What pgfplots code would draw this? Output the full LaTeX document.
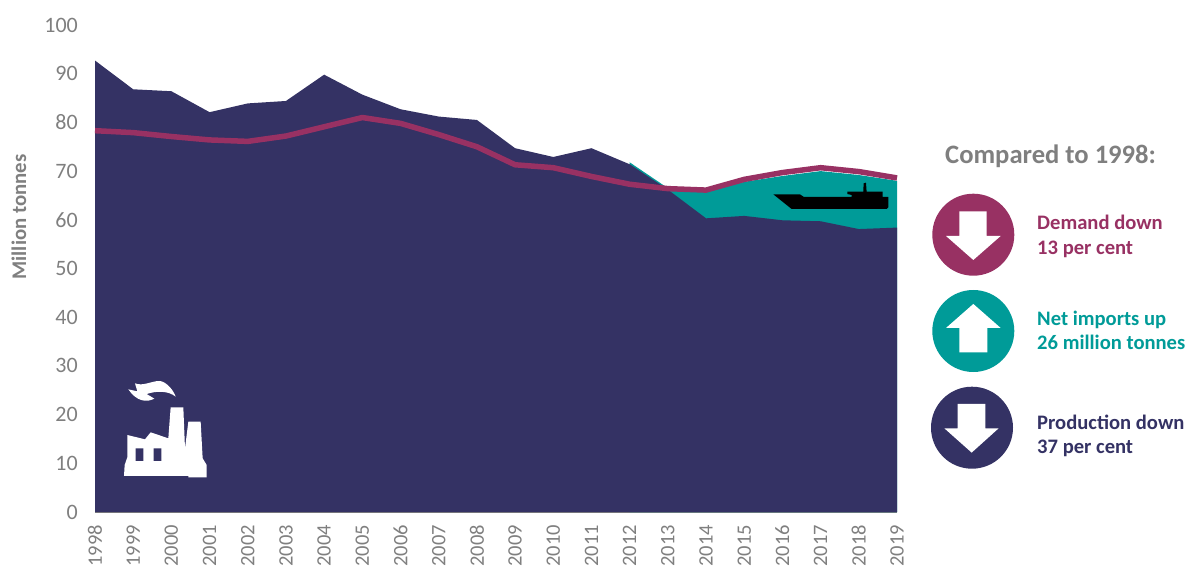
\documentclass[border=0pt]{standalone}
\usepackage{fontspec}
\setmainfont{Carlito}
\usepackage{pgfplots}
\pgfplotsset{compat=1.18}
\definecolor{navy}{HTML}{343264}
\definecolor{plum}{HTML}{983163}
\definecolor{teal2}{HTML}{009B98}
\definecolor{greytxt}{HTML}{7F7F7F}
\newcommand{\px}[1]{\fontsize{#1bp}{#1bp}\selectfont}
\begin{document}
\begin{tikzpicture}[x=1bp,y=1bp]
\path[use as bounding box] (0,0) rectangle (1190,-568);
\begin{axis}[
    at={(95bp,-512bp)}, anchor=south west,
    scale only axis,
    width=802bp, height=487bp,
    xmin=1998, xmax=2019, ymin=0, ymax=100,
    xtick={1998,...,2019},
    ytick={0,10,...,100},
    axis x line*=bottom, axis y line*=left,
    y axis line style={draw=none},
    x axis line style={draw=greytxt, line width=0.8bp, -},
    major tick length=0pt,
    /pgf/number format/assume math mode=true,
    /pgf/number format/1000 sep={},
    x tick label style={rotate=90, anchor=east, font=\px{20.5}, text=greytxt, inner sep=0pt, xshift=-13bp},
    y tick label style={anchor=east, font=\px{22}, text=greytxt, inner sep=0pt, xshift=-17bp},
    clip=false,
]
% production + net imports
\addplot[fill=teal2, draw=none] coordinates {
    (2012,71.8) (2013,66.5) (2014,65.8) (2015,67.8) (2016,69.0) (2017,70.0) (2018,69.2) (2019,68.0)
} \closedcycle;
% production
\addplot[fill=navy, draw=none] coordinates {
    (1998,92.7) (1999,86.8) (2000,86.4) (2001,82.1) (2002,83.9) (2003,84.4) (2004,89.8) (2005,85.7)
    (2006,82.7) (2007,81.2) (2008,80.5) (2009,74.7) (2010,72.9) (2011,74.7) (2012,71.4) (2013,66.2)
    (2014,60.3) (2015,60.8) (2016,59.9) (2017,59.7) (2018,58.1) (2019,58.4)
} \closedcycle;
% demand
\addplot[plum, line width=5.5bp, line join=round] coordinates {
    (1998,78.3) (1999,77.9) (2000,77.1) (2001,76.4) (2002,76.1) (2003,77.2) (2004,79.1) (2005,81.0)
    (2006,79.8) (2007,77.5) (2008,75.0) (2009,71.3) (2010,70.7) (2011,68.9) (2012,67.3) (2013,66.4)
    (2014,66.1) (2015,68.3) (2016,69.7) (2017,70.7) (2018,69.9) (2019,68.6)
};
\end{axis}
\begin{scope}[y=-1bp]
\node[rotate=90, font=\px{20.8}\bfseries, text=greytxt, inner sep=0pt] at (19,217) {Million tonnes};
% factory
\begin{scope}[shift={(110,370)}, x=0.3333bp, y=-0.3333bp]
\fill[white] (42,318) -- (44,285) -- (52,262) -- (52,195) -- (105,208) -- (122,187) -- (175,205)
    -- (182,112) -- (220,112) -- (225,235) -- (235,155) -- (272,155) -- (278,265) -- (290,285)
    -- (290,322) -- (235,322) -- (235,318) -- cycle;
\fill[navy] (77,235) rectangle (100,273) (131,235) rectangle (154,273);
\fill[white] (55,58) -- (82,64) -- (75,40) .. controls (100,50) and (125,32) .. (150,33)
    .. controls (170,36) and (190,60) .. (197,80) .. controls (175,62) and (140,62) .. (110,72)
    -- (133,86) .. controls (110,98) and (80,95) .. cycle;
\end{scope}
% ship
\begin{scope}[shift={(600,130)}, x=0.3333bp, y=-0.3333bp]
\fill[black] (520,193) -- (600,193) -- (612,201) -- (755,201) -- (755,195) -- (742,192) -- (742,185)
    -- (790,185) -- (791,160) -- (798,158) -- (800,185) -- (848,185) -- (848,201) -- (865,201)
    -- (865,232) -- (860,237) -- (575,237) -- cycle;
\end{scope}
% key
\node[anchor=west, font=\px{26.6}\bfseries, text=greytxt, inner sep=0pt] at (945,156) {Compared to 1998:};
\fill[plum] (973.3,234.7) circle[radius=41];
\fill[teal2] (973.3,331) circle[radius=41];
\fill[navy] (972,427.7) circle[radius=41];
\begin{scope}[shift={(920,130)}, x=0.3333bp, y=-0.3333bp]
\fill[white] (118,244) -- (200,244) -- (200,318) -- (242,318) -- (160,390) -- (78,318) -- (118,318) -- cycle;
\fill[white] (118,667) -- (202,667) -- (202,594) -- (242,594) -- (160,522) -- (78,594) -- (118,594) -- cycle;
\fill[white] (113,822) -- (196,822) -- (196,895) -- (236,895) -- (155,968) -- (73,895) -- (113,895) -- cycle;
\end{scope}
\node[anchor=base west, font=\px{20.6}\bfseries, text=plum, inner sep=0pt] at (1037,230) {Demand down};
\node[anchor=base west, font=\px{20.6}\bfseries, text=plum, inner sep=0pt] at (1037,255) {13 per cent};
\node[anchor=base west, font=\px{20.6}\bfseries, text=teal2, inner sep=0pt] at (1037,326) {Net imports up};
\node[anchor=base west, font=\px{20.6}\bfseries, text=teal2, inner sep=0pt] at (1037,350) {26 million tonnes};
\node[anchor=base west, font=\px{20.6}\bfseries, text=navy, inner sep=0pt] at (1037,429) {Production down};
\node[anchor=base west, font=\px{20.6}\bfseries, text=navy, inner sep=0pt] at (1037,453) {37 per cent};
\end{scope}
\end{tikzpicture}
\end{document}
